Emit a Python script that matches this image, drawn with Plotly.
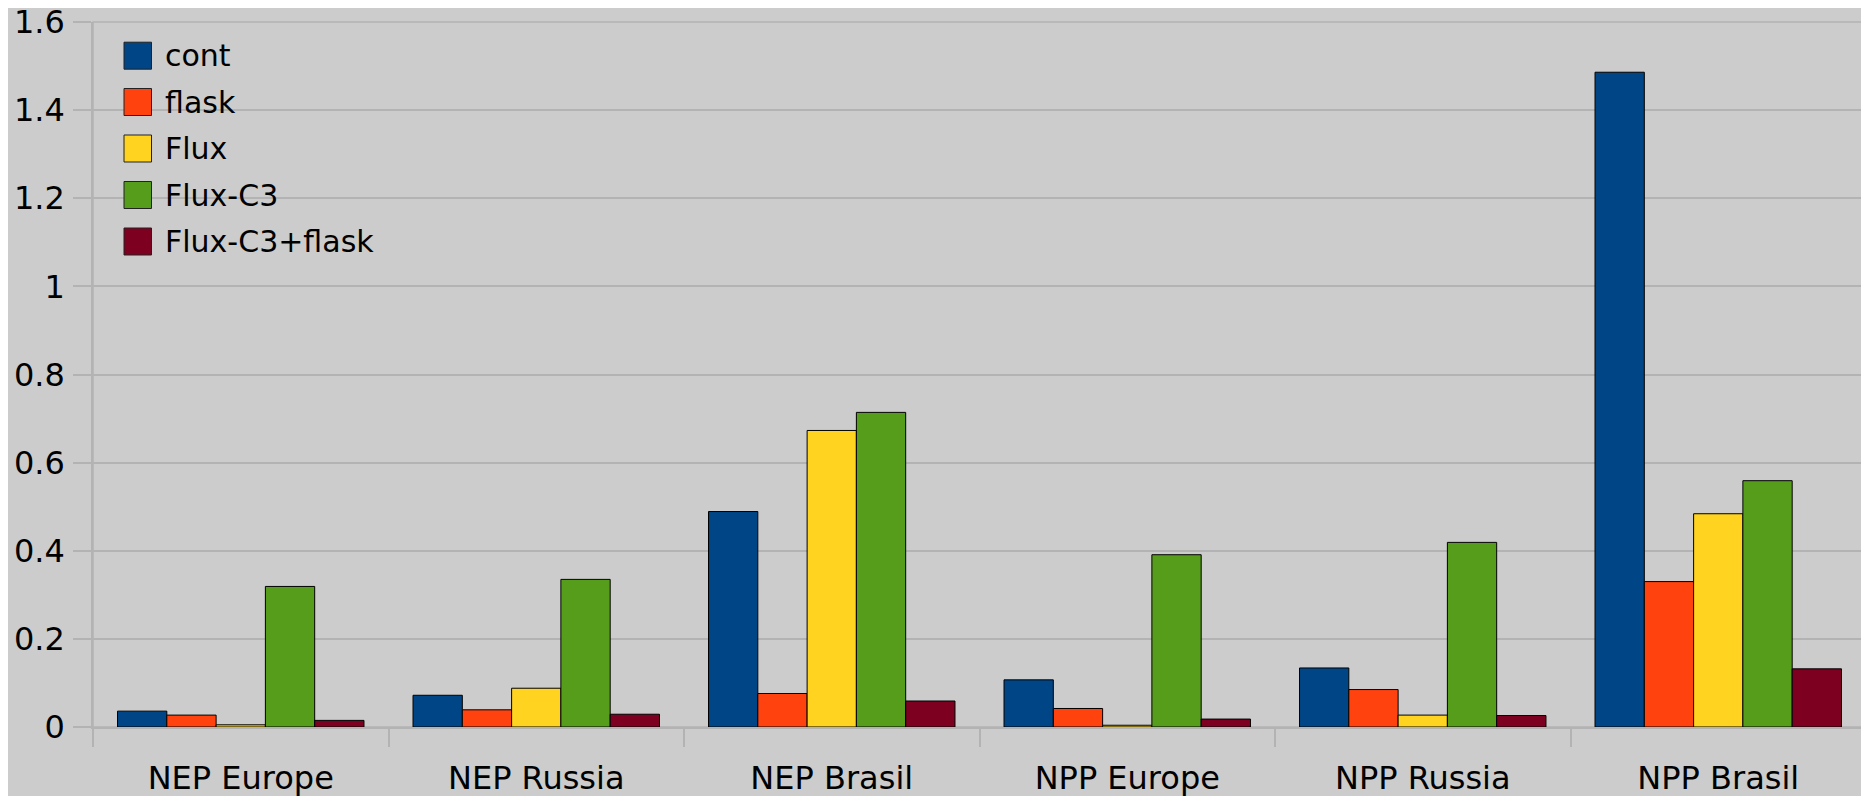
import plotly.graph_objects as go

categories = ["NEP Europe", "NEP Russia", "NEP Brasil", "NPP Europe", "NPP Russia", "NPP Brasil"]
series_names = ["cont", "flask", "Flux", "Flux-C3", "Flux-C3+flask"]
cont = [0.036, 0.072, 0.489, 0.107, 0.134, 1.486]
flask = [0.027, 0.039, 0.076, 0.042, 0.085, 0.330]
flux = [0.005, 0.088, 0.673, 0.004, 0.027, 0.484]
flux_c3 = [0.319, 0.335, 0.714, 0.391, 0.419, 0.559]
flux_c3_flask = [0.015, 0.029, 0.059, 0.018, 0.026, 0.132]
series_values = [cont, flask, flux, flux_c3, flux_c3_flask]
colors = ["#004586", "#ff420e", "#ffd320", "#579d1c", "#7e0021"]
y_ticks = [0, 0.2, 0.4, 0.6, 0.8, 1.0, 1.2, 1.4, 1.6]
y_ticktext = ["0", "0.2", "0.4", "0.6", "0.8", "1", "1.2", "1.4", "1.6"]

# page body has an 8px default margin
OFF = 8
W, H = 1869 - OFF, 796 - OFF
# plot area in page pixels
PX0, PX1, PY0, PY1 = 93, 1866, 22, 727
L, R, T, B = PX0 - OFF, W - (PX1 - OFF), PY0 - OFF, H - (PY1 - OFF)
FONT = "DejaVu Sans"
GRID = "#b3b3b3"

fig = go.Figure()
for name, vals, col in zip(series_names, series_values, colors):
    fig.add_trace(go.Bar(
        x=categories, y=vals, name=name,
        marker=dict(color=col, line=dict(color="#000000", width=1)),
        showlegend=False,
    ))

# manual legend (page pixel -> paper)
def px(x):
    return (x - PX0) / (PX1 - PX0)
def py(y):
    return (PY1 - y) / (PY1 - PY0)

shapes = []
annotations = []
row_centers = [55.7, 102, 148.5, 195, 241.5]
for name, col, yc in zip(series_names, colors, row_centers):
    shapes.append(dict(type="rect", xref="paper", yref="paper",
                       x0=px(124), x1=px(151.5), y0=py(yc + 13.5), y1=py(yc - 13.5),
                       fillcolor=col, line=dict(color="#222222", width=1)))
    annotations.append(dict(xref="paper", yref="paper", x=px(163), y=py(yc),
                            xanchor="left", yanchor="middle", text=name, showarrow=False,
                            font=dict(family=FONT, size=30, color="#000000")))
# plot frame
shapes.append(dict(type="rect", xref="paper", yref="paper", x0=0, x1=1, y0=0, y1=1,
                   line=dict(color=GRID, width=1.5), layer="below"))

fig.update_layout(
    width=W, height=H,
    margin=dict(l=L, r=R, t=T, b=B, pad=0, autoexpand=False),
    paper_bgcolor="#cccccc", plot_bgcolor="#cccccc",
    barmode="group", bargap=0.166, bargroupgap=0,
    font=dict(family=FONT, size=32, color="#000000"),
    shapes=shapes, annotations=annotations,
    showlegend=False,
)
fig.update_xaxes(
    type="category", tickson="boundaries", ticks="outside", ticklen=18,
    tickcolor=GRID, tickwidth=1.5, showgrid=False, showline=True,
    linecolor=GRID, linewidth=1.5,
    tickfont=dict(family=FONT, size=32, color="#000000"),
    ticklabelstandoff=22, automargin=False, ticklabeloverflow="allow",
)
fig.update_yaxes(
    range=[0, 1.6], tickvals=y_ticks, ticktext=y_ticktext,
    ticks="outside", ticklen=18, tickcolor=GRID, tickwidth=1.5,
    showgrid=True, gridcolor=GRID, gridwidth=1.5, zeroline=False,
    showline=True, linecolor=GRID, linewidth=1.5,
    tickfont=dict(family=FONT, size=32, color="#000000"),
    ticklabelstandoff=2, automargin=False, ticklabeloverflow="allow",
)

fig.write_html("out.html")
